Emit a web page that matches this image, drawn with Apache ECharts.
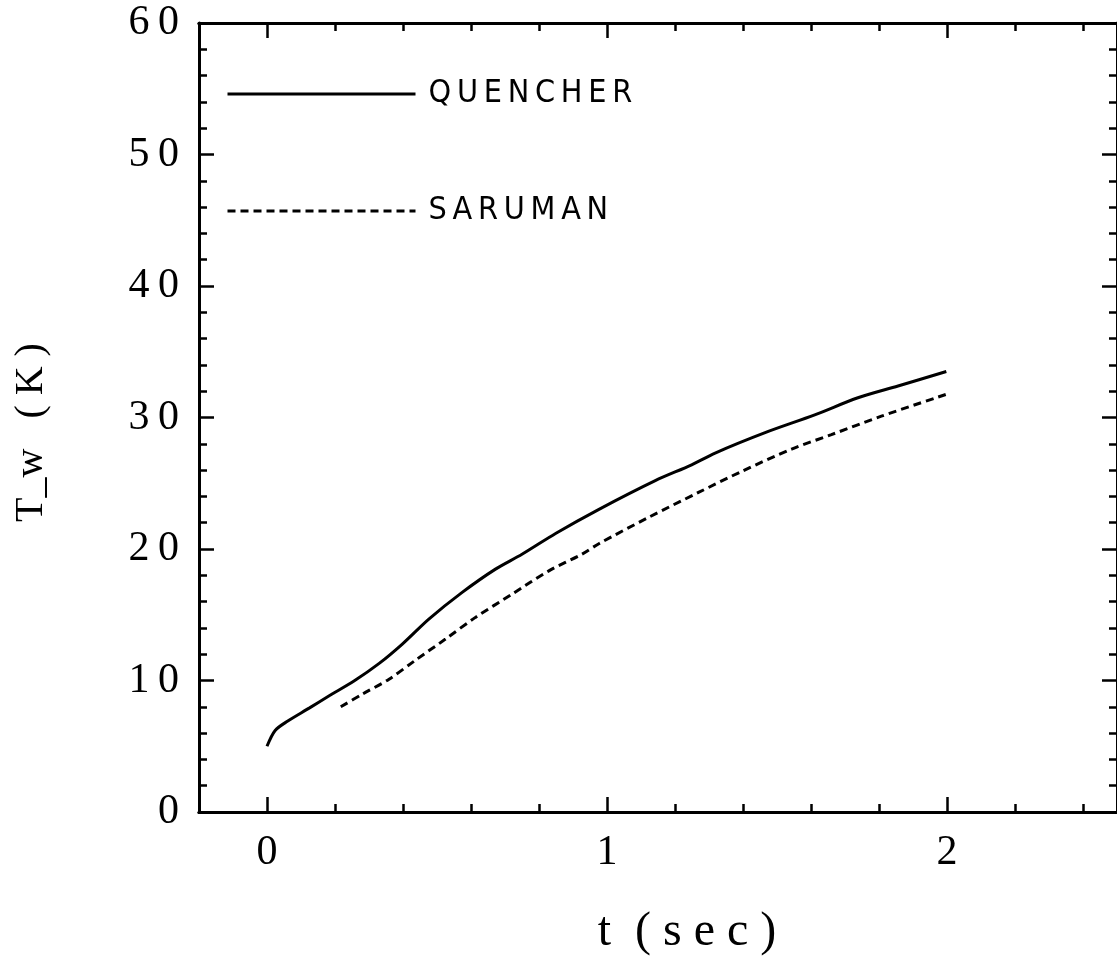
<!DOCTYPE html>
<html>
<head>
<meta charset="utf-8">
<script src="https://cdn.jsdelivr.net/npm/echarts@6/dist/echarts.min.js"></script>
<style>
html,body{margin:0;padding:0;background:#fff;}
#chart{width:1117px;height:961px;}
</style>
</head>
<body>
<div id="chart"></div>
<script>
// ---- data ----
const quencherT = [0, 0.024, 0.06, 0.124, 0.183, 0.257, 0.33, 0.398, 0.476, 0.574, 0.672, 0.75, 0.85, 0.975, 1.142, 1.249, 1.318, 1.465, 1.611, 1.738, 1.856, 1.998];
const quencherTw = [5.0, 6.2, 6.9, 7.9, 8.84, 9.98, 11.3, 12.77, 14.67, 16.7, 18.47, 19.6, 21.2, 23.0, 25.2, 26.4, 27.3, 28.85, 30.2, 31.5, 32.4, 33.5];
const sarumanT = [0.217, 0.281, 0.359, 0.437, 0.525, 0.613, 0.721, 0.829, 0.926, 0.976, 1.122, 1.269, 1.396, 1.543, 1.660, 1.807, 1.998];
const sarumanTw = [8.0, 8.97, 10.1, 11.55, 13.15, 14.8, 16.57, 18.34, 19.6, 20.4, 22.4, 24.3, 25.9, 27.6, 28.7, 30.1, 31.76];
const xMajorTicks = [0, 1, 2];
const xMinorTicks = [0.2, 0.4, 0.6, 0.8, 1.2, 1.4, 1.6, 1.8, 2.2, 2.4];
const seriesNames = ['QUENCHER', 'SARUMAN'];
const xTitle = 't  ( s e c )';
const yTitle = 'T_w   ( K )';

const pair = (xs, ys) => xs.map((x, i) => [x, ys[i]]);
const spaced = (s, sep) => s.split('').join(sep);

const serif = 'Liberation Serif';
const axisLineStyle = { color: '#000', width: 3 };

function xAxisDef(position, major, withLabels) {
  return {
    type: 'value', min: -0.2, max: 2.5, position: position,
    gridIndex: 0,
    axisLine: { show: true, onZero: false, lineStyle: axisLineStyle },
    axisTick: { show: true, inside: true, length: major ? 15 : 8,
      customValues: major ? xMajorTicks : xMinorTicks,
      lineStyle: { color: '#000', width: 2.5 } },
    axisLabel: withLabels ? { show: true, customValues: xMajorTicks, margin: 20,
      fontFamily: serif, fontSize: 42, color: '#000' } : { show: false },
    splitLine: { show: false }
  };
}
function yAxisDef(position, withLabels) {
  return {
    type: 'value', min: 0, max: 60, interval: 10, position: position,
    axisLine: { show: true, onZero: false, lineStyle: axisLineStyle },
    axisTick: { show: true, inside: true, length: 15, lineStyle: { color: '#000', width: 2.5 } },
    minorTick: { show: true, splitNumber: 5, length: 8, lineStyle: { color: '#000', width: 2.5 } },
    axisLabel: withLabels ? { show: true, margin: 20, fontFamily: serif, fontSize: 42, color: '#000',
      formatter: v => spaced(String(v), '\u2009') } : { show: false },
    splitLine: { show: false },
    minorSplitLine: { show: false }
  };
}

const chart = echarts.init(document.getElementById('chart'), null, { renderer: 'canvas' });
const xAxes = [
  Object.assign(xAxisDef('bottom', true, true), {
    name: xTitle, nameLocation: 'middle', nameGap: 96,
    nameTextStyle: { fontFamily: serif, fontSize: 48, color: '#000', padding: [0, 0, 0, 58] }
  }),
  xAxisDef('bottom', false, false),
  xAxisDef('top', true, false),
  xAxisDef('top', false, false)
];
const yAxes = [
  Object.assign(yAxisDef('left', true), {
    name: yTitle, nameLocation: 'middle', nameGap: 148, nameRotate: 90,
    nameTextStyle: { fontFamily: serif, fontSize: 40, color: '#000', padding: [0, 30, 0, 0] }
  }),
  yAxisDef('right', false)
];

chart.setOption({
  animation: false,
  backgroundColor: '#fff',
  grid: { left: 199, right: -2, top: 23, bottom: 143, containLabel: false },
  legend: {
    orient: 'vertical', left: 221, top: 73,
    itemWidth: 188, itemHeight: 34, itemGap: 85,
    data: seriesNames,
    formatter: name => spaced(name, '\u2009'),
    itemStyle: { opacity: 0 },
    lineStyle: { width: 3 },
    textStyle: { fontFamily: 'Liberation Sans Narrow, DejaVu Sans Condensed, sans-serif', fontSize: 32,
      color: '#000', padding: [0, 0, 0, 8] }
  },
  xAxis: xAxes,
  yAxis: yAxes,
  series: [
    { name: seriesNames[0], type: 'line', xAxisIndex: 0, yAxisIndex: 0,
      data: pair(quencherT, quencherTw), showSymbol: false, symbol: 'none', smooth: 0.3,
      lineStyle: { color: '#000', width: 3, type: 'solid' }, itemStyle: { color: '#000' } },
    { name: seriesNames[1], type: 'line', xAxisIndex: 0, yAxisIndex: 0,
      data: pair(sarumanT, sarumanTw), showSymbol: false, symbol: 'none', smooth: 0.3,
      lineStyle: { color: '#000', width: 3, type: [8, 5] }, itemStyle: { color: '#000' } }
  ]
});
</script>
</body>
</html>
